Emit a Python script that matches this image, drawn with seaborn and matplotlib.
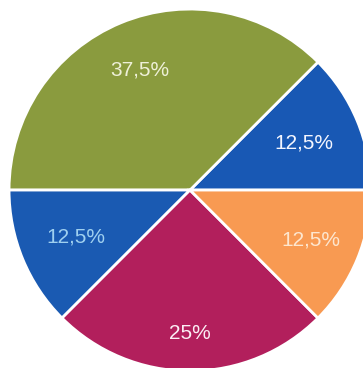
import seaborn as sns
from matplotlib import pyplot as plt
import numpy as np

shares = [12.5, 37.5, 12.5, 25, 12.5]
labels = ['12,5%', '37,5%', '12,5%', '25%', '12,5%']
colors = ['#1858b4', '#8a9b3e', '#1a5ab2', '#b21f5c', '#f89a52']
text_colors = ['#f4f6ff', '#eef0d8', '#9fd0f0', '#fbeef4', '#fde6cf']


def pie():
    sns.set_style('white')
    plt.rcParams['font.family'] = ['Liberation Sans', 'DejaVu Sans']
    fig = plt.figure(figsize=(3.63, 3.68), dpi=100)
    ax = fig.add_axes([0, 0, 1, 1])
    wedges, _ = ax.pie(shares, colors=colors, startangle=0, counterclock=True,
                       wedgeprops=dict(edgecolor='white', linewidth=2))
    for w, lab, tc, r in zip(wedges, labels, text_colors, [0.68, 0.72, 0.68, 0.79, 0.72]):
        ang = np.deg2rad((w.theta1 + w.theta2) / 2)
        ax.text(r * np.cos(ang), r * np.sin(ang), lab, ha='center', va='center',
                color=tc, fontsize=15)
    ax.set_xlim(-1.05, 0.956)
    ax.set_ylim(-0.983, 1.05)
    ax.set_aspect('auto')
    ax.axis('off')
    fig.savefig('out.png', dpi=100)


if __name__ == '__main__':
    pie()
